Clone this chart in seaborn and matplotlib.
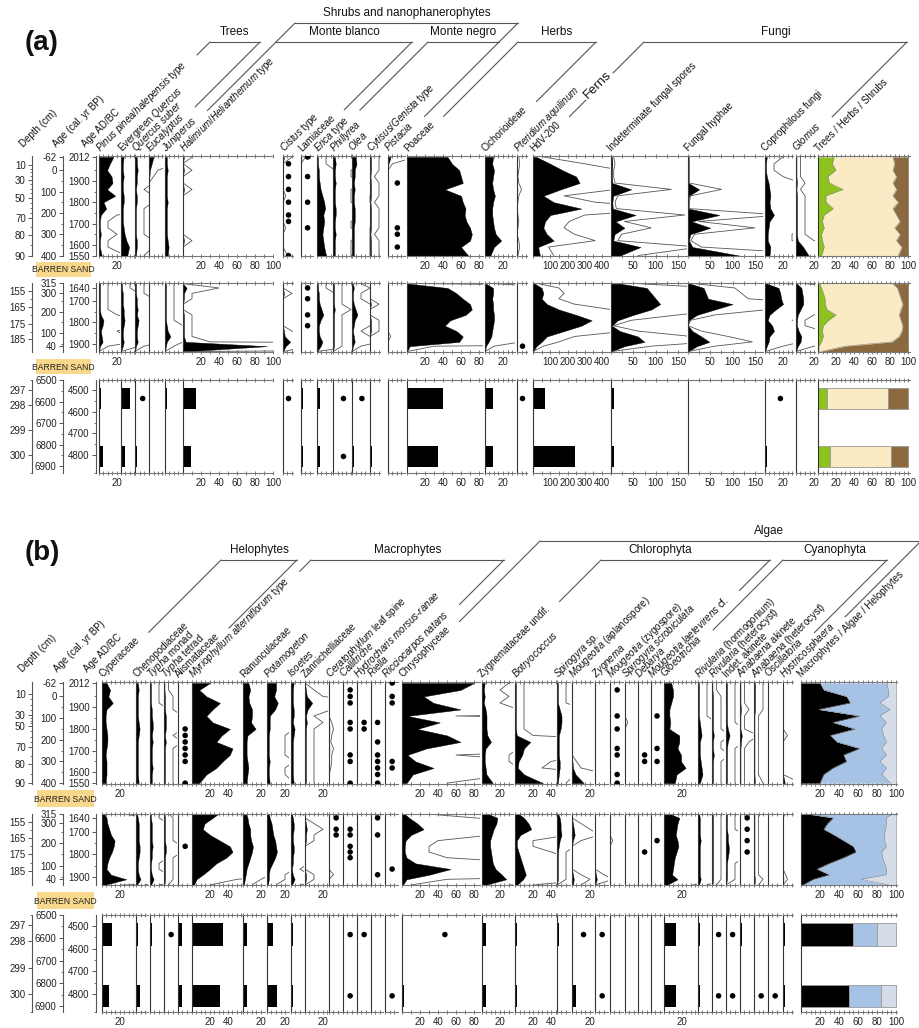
import numpy as np
import matplotlib
matplotlib.use('Agg')
import matplotlib.pyplot as plt
from matplotlib.patches import Rectangle
import seaborn as sns

sns.set_theme(style='white')
plt.rcParams['font.family'] = ['Liberation Sans', 'DejaVu Sans']
plt.rcParams['mathtext.fontset'] = 'custom'
plt.rcParams['mathtext.rm'] = 'Liberation Sans'
plt.rcParams['mathtext.it'] = 'Liberation Sans:italic'
plt.rcParams['mathtext.bf'] = 'Liberation Sans:bold'
plt.rcParams['axes.unicode_minus'] = False

# ---------------- sample ages ----------------
UP_AD = [2012, 1980, 1950, 1920, 1890, 1860, 1830, 1800, 1770, 1740, 1710, 1680, 1650, 1620, 1590, 1550]
MID_AD = [1620, 1640, 1665, 1690, 1715, 1740, 1765, 1790, 1815, 1840, 1865, 1890, 1910, 1935]
LOW_BP = [6586, 6855]

Z16 = [0, 0, 0, 0, 0, 0, 0, 0, 0, 0, 0, 0, 0, 0, 0, 0]
Z14 = [0, 0, 0, 0, 0, 0, 0, 0, 0, 0, 0, 0, 0, 0]
Z2 = [0, 0]

# ---------------- panel (a) data ----------------
pinus_up = [16, 12, 9, 14, 15, 9, 18, 5, 8, 2, 1, 1, 2, 1, 1, 3]
pinus_mid = [1, 1, 1, 1, 1, 1, 2, 5, 4, 2, 3, 4, 1, 0]
pinus_low = [2, 4]
evq_up = [3, 2, 2, 3, 2, 2, 3, 3, 2, 2, 2, 3, 4, 6, 9, 7]
evq_mid = [1, 1, 2, 2, 2, 3, 3, 4, 3, 2, 2, 3, 2, 0]
evq_low = [10, 5]
qsub_up = [2, 2, 3, 2, 2, 1, 2, 2, 1, 1, 1, 1, 1, 2, 2, 1]
qsub_mid = [1, 1, 1, 2, 2, 3, 2, 4, 3, 2, 2, 3, 1, 0]
qsub_low = [0, 2]
qsub_dots_low = [0]
euca_up = [5, 3, 1, 0.5, 0, 0, 0, 0, 0, 0, 0, 0, 0, 0, 0, 0]
euca_mid = Z14
euca_low = Z2
juni_up = [2, 2, 3, 2, 2, 2, 2, 3, 2, 2, 2, 2, 2, 3, 4, 3]
juni_mid = [1, 1, 1, 1, 1, 1, 1, 1, 2, 3, 6, 2, 1, 0]
juni_low = [2, 0]
hali_up = [1, 0, 1, 0, 0, 1, 0, 0, 0, 0, 0, 0, 0, 1, 0, 0]
hali_mid = [0, 4, 1, 1, 0, 0, 1, 1, 1, 1, 1, 3, 93, 0]
hali_low = [14, 9]
cist_up = [1, 0, 0, 0, 0, 0, 0.3, 0, 0, 0, 0, 0.3, 0, 0, 0, 0.5]
cist_dots_up = [1, 3, 5, 7, 9, 10, 15]
cist_mid = [0, 0, 1, 0, 0, 0, 0, 0, 0, 1, 2, 8, 3, 0]
cist_low = Z2
cist_dots_low = [0]
lami_up = [0.5, 0, 0, 0, 0, 0, 0, 0, 0, 0, 0, 0, 0, 0, 0, 0]
lami_dots_up = [0, 3, 7, 11]
lami_mid = Z14
lami_dots_mid = [1, 3, 6, 8]
lami_low = [2, 2]
eric_up = [1, 1, 2, 2, 3, 4, 6, 8, 9, 7, 8, 7, 6, 7, 8, 10]
eric_mid = [1, 1, 2, 2, 3, 5, 7, 4, 2, 2, 3, 6, 4, 0]
eric_low = [3, 3]
phil_up = [2, 3, 2, 2, 3, 2, 2, 2, 3, 3, 2, 2, 3, 2, 2, 2]
phil_mid = [1, 1, 1, 1, 1, 2, 1, 1, 1, 1, 1, 1, 1, 0]
phil_low = Z2
phil_dots_low = [0, 1]
olea_up = [4, 5, 3, 3, 2, 3, 2, 2, 3, 3, 3, 2, 2, 2, 2, 2]
olea_mid = [1, 2, 1, 1, 2, 4, 6, 3, 2, 1, 2, 3, 1, 0]
olea_low = [0, 2]
olea_dots_low = [0]
cyti_up = [1, 1, 1, 0.5, 1, 1, 1, 0.5, 1, 1, 1, 1, 0.5, 1, 1, 1]
cyti_mid = [0, 0, 0, 0, 1, 0, 0, 1, 1, 1, 0, 0, 0, 0]
cyti_low = [0, 2]
pist_up = [3, 0.5, 0, 0, 0, 0, 0, 0, 0, 0, 0, 0, 0, 0, 0, 0]
pist_dots_up = [4, 11, 12, 14]
pist_mid = [0, 0, 0, 0, 0, 0, 0, 0, 0, 0, 0.3, 0, 0, 0]
pist_low = Z2
poac_up = [45, 50, 58, 60, 62, 42, 60, 62, 65, 64, 66, 70, 72, 70, 60, 68]
poac_mid = [2, 45, 55, 62, 70, 72, 65, 48, 42, 55, 62, 58, 3, 0]
poac_low = [40, 34]
cich_up = [9, 8, 10, 9, 8, 9, 11, 9, 8, 8, 9, 10, 12, 18, 10, 6]
cich_mid = [1, 9, 9, 8, 9, 9, 10, 10, 9, 8, 7, 4, 1, 0]
cich_low = [9, 9]
pter_up = [0.2, 0.3, 0.2, 0.1, 0.2, 0.5, 0.2, 0.1, 0, 0.1, 0.2, 0.1, 0, 0.2, 0.3, 0.1]
pter_mid = Z14
pter_dots_mid = [12]
pter_low = Z2
pter_dots_low = [0]
hdv_up = [20, 100, 170, 250, 270, 160, 60, 120, 280, 100, 70, 60, 80, 120, 30, 40]
hdv_mid = [10, 50, 60, 50, 80, 150, 250, 340, 280, 180, 80, 50, 20, 0]
hdv_low = [68, 245]
fsp_up = [2, 3, 2, 2, 3, 45, 5, 3, 4, 55, 10, 30, 8, 5, 66, 20]
fsp_mid = [20, 80, 90, 100, 110, 90, 50, 15, 2, 20, 60, 75, 30, 0]
fsp_low = [7, 7]
fhy_up = [1, 1, 1, 1, 1, 25, 2, 1, 1, 70, 8, 50, 5, 2, 10, 115]
fhy_mid = [5, 35, 40, 45, 100, 60, 20, 2, 0, 10, 30, 48, 20, 0]
fhy_low = Z2
copr_up = [2, 1, 1, 2, 4, 5, 6, 5, 6, 10, 5, 4, 3, 3, 6, 5]
copr_mid = [2, 15, 17, 18, 20, 12, 5, 3, 8, 10, 5, 4, 2, 0]
copr_low = [0, 2]
copr_dots_low = [0]
glom_up = [0.5, 0.5, 0.5, 0.5, 1, 0.5, 1, 1, 1, 1, 1, 1, 1, 2, 8, 14]
glom_mid = [1, 6, 7, 8, 8, 5, 2, 1, 1, 3, 6, 5, 2, 0]
glom_low = Z2
ths_trees_up = [18, 16, 20, 11, 13, 28, 9, 9, 17, 7, 5, 7, 4, 5, 7, 4]
ths_shrubs_up = [17, 15, 17, 13, 17, 13, 17, 11, 17, 13, 9, 15, 9, 13, 7, 11]
ths_trees_mid = [2, 4, 6, 8, 8, 10, 20, 12, 6, 5, 6, 4, 1, 1]
ths_shrubs_mid = [17, 12, 10, 8, 6, 8, 10, 8, 6, 7, 10, 18, 70, 97]
ths_trees_low = [10, 13]
ths_shrubs_low = [22, 19]

# ---------------- panel (b) data ----------------
cype_up = [5, 9, 7, 12, 5, 4, 4, 5, 6, 6, 5, 4, 5, 5, 5, 4]
cype_mid = [2, 5, 6, 8, 10, 14, 13, 11, 8, 6, 5, 10, 27, 2]
cype_low = [11, 8]
chen_up = [2, 3, 2, 2, 2, 2, 3, 4, 3, 2, 2, 2, 2, 2, 2, 3]
chen_mid = [1, 2, 3, 3, 3, 3, 4, 4, 3, 2, 2, 3, 5, 1]
chen_low = [2, 4]
tymo_up = [1, 1, 1, 1, 2, 2, 3, 3, 2, 3, 2, 2, 2, 3, 2, 2]
tymo_mid = [1, 1, 2, 2, 2, 2, 3, 2, 2, 1, 1, 2, 4, 1]
tymo_low = [2, 0]
tyte_up = [0.5, 0.5, 1, 1, 1, 2, 2, 2, 1, 2, 1, 1, 1, 1, 1, 1]
tyte_mid = [0.5, 1, 1, 1, 1, 1, 2, 2, 1, 1, 1, 1, 1, 0.5]
tyte_low = Z2
tyte_dots_low = [0]
alis_up = Z16
alis_dots_up = [7, 8, 9, 10, 11, 12, 15]
alis_mid = Z14
alis_dots_mid = [6]
alis_low = [5, 4]
myri_up = [20, 8, 16, 31, 23, 16, 23, 42, 33, 27, 45, 42, 34, 27, 16, 8]
myri_mid = [30, 23, 14, 12, 20, 31, 42, 45, 38, 27, 20, 12, 5, 2]
myri_low = [35, 31]
ranu_up = [6, 8, 6, 7, 10, 10, 9, 14, 5, 4, 4, 4, 5, 6, 5, 4]
ranu_mid = [3, 5, 6, 8, 8, 9, 11, 10, 8, 6, 4, 3, 2, 1]
ranu_low = [5, 5]
pota_up = [10, 10, 8, 12, 9, 3, 3, 3, 2, 2, 2, 2, 3, 2, 2, 3]
pota_mid = [2, 3, 5, 6, 7, 9, 10, 11, 9, 6, 3, 2, 2, 1]
pota_low = [7, 11]
isoe_up = [3, 2, 2, 2, 3, 3, 2, 4, 3, 2, 2, 2, 2, 2, 2, 3]
isoe_mid = [1, 2, 3, 3, 2, 2, 3, 3, 2, 2, 1, 2, 4, 1]
isoe_low = [2, 2]
zann_up = [0, 1, 2, 8, 3, 1, 2, 1, 1, 1, 1, 1, 1, 1, 1, 1]
zann_mid = [0, 0, 1, 2, 1, 1, 0, 0, 0, 0, 0, 1, 1, 0]
zann_low = Z2
cera_up = [0, 0, 0, 0, 0, 0, 0.3, 0.5, 0.3, 0.2, 0.5, 0.3, 0.3, 0.2, 0, 0]
cera_mid = [0, 0, 0, 0, 0, 0, 0, 0, 0, 0, 0, 0.5, 0, 0]
cera_dots_mid = [1, 3, 4]
cera_low = Z2
call_up = Z16
call_dots_up = [1, 2, 3, 6, 7, 11, 12, 15]
call_mid = Z14
call_dots_mid = [3, 4, 6, 7, 8]
call_low = Z2
call_dots_low = [0, 1]
hydr_up = Z16
hydr_dots_up = [6, 7]
hydr_mid = Z14
hydr_low = Z2
hydr_dots_low = [0]
riel_up = Z16
riel_dots_up = [6, 9, 11, 12, 13, 14, 15]
riel_mid = Z14
riel_dots_mid = [1, 4, 11]
riel_low = Z2
ricc_up = Z16
ricc_dots_up = [0, 2, 3, 12, 13]
ricc_mid = Z14
ricc_dots_mid = [10]
ricc_low = Z2
ricc_dots_low = [1]
chry_up = [80, 65, 24, 35, 65, 6, 42, 17, 50, 65, 27, 6, 15, 35, 12, 5]
chry_mid = [2, 8, 17, 24, 10, 4, 3, 3, 5, 15, 54, 30, 5, 1]
chry_low = [0, 2]
chry_dots_low = [0]
zygu_up = [3, 2, 3, 2, 4, 5, 5, 5, 6, 10, 4, 3, 3, 4, 5, 12]
zygu_mid = [5, 17, 16, 13, 11, 9, 9, 10, 11, 12, 15, 22, 27, 3]
zygu_low = [4, 4]
botr_up = [1, 1, 1, 1, 1, 1, 1, 1, 2, 17, 10, 8, 4, 3, 10, 31]
botr_mid = [3, 10, 15, 18, 6, 2, 2, 4, 6, 8, 10, 12, 9, 2]
botr_low = [2, 2]
spis_up = [1, 1, 1, 1, 3, 5, 5, 4, 2, 2, 2, 2, 3, 3, 2, 1]
spis_mid = [1, 3, 4, 4, 5, 3, 2, 1, 1, 1, 1, 1, 1, 0]
spis_low = [2, 0]
moap_up = [0, 0, 0, 0, 0, 0, 0, 0, 0, 0, 0, 0, 0.5, 1, 4, 13]
moap_mid = [0, 0, 1, 2, 3, 1, 0, 0, 0, 0, 0, 1, 2, 1]
moap_low = [0, 4]
moap_dots_low = [0]
zygn_up = Z16
zygn_mid = [0, 0, 0, 0, 0, 0, 0, 0, 0, 0, 0, 1, 2, 0]
zygn_low = Z2
zygn_dots_low = [0, 1]
mozy_up = Z16
mozy_dots_up = [1, 5, 7, 10, 11, 14, 15]
mozy_mid = [0, 0, 0, 0, 0, 0.3, 0, 0, 0, 0, 0, 0, 0, 0]
mozy_low = Z2
spsc_up = [0, 0, 0, 0, 0, 0, 0.3, 0, 0, 0, 0, 0, 0, 0, 0, 0]
spsc_mid = Z14
spsc_low = Z2
deba_up = Z16
deba_dots_up = [11, 12]
deba_mid = Z14
deba_dots_mid = [7]
deba_low = Z2
mola_up = Z16
mola_dots_up = [5, 10, 12]
mola_mid = Z14
mola_dots_mid = [5]
mola_low = Z2
gloe_up = [8, 10, 10, 8, 6, 6, 7, 6, 17, 17, 15, 19, 19, 24, 14, 12]
gloe_mid = [5, 17, 15, 14, 13, 15, 16, 14, 12, 11, 10, 9, 15, 3]
gloe_low = [13, 13]
rivh_up = [1, 1, 1, 1, 1, 1, 2, 3, 4, 2, 2, 2, 3, 4, 5, 2]
rivh_mid = [1, 2, 2, 2, 2, 3, 2, 2, 2, 2, 2, 2, 3, 1]
rivh_low = [2, 2]
rivt_up = [0.5, 0.5, 1, 1, 1, 1, 1, 1, 2, 1, 1, 2, 1, 1, 1, 1]
rivt_mid = [1, 1, 1, 1, 1, 1, 1, 1, 1, 1, 1, 1, 1, 0.5]
rivt_low = Z2
rivt_dots_low = [0, 1]
inak_up = [1, 1, 1, 1, 1, 1, 1, 2, 4, 2, 1, 1, 1, 1, 1, 1]
inak_mid = [1, 1, 1, 1, 2, 2, 3, 3, 2, 1, 1, 1, 1, 0]
inak_low = Z2
inak_dots_low = [0, 1]
anak_up = [0.5, 0.5, 0.5, 0.5, 1, 0.5, 0.5, 0.5, 2, 1, 0.5, 0.5, 0.5, 0.5, 0.5, 0.5]
anak_mid = Z14
anak_dots_mid = [1, 3, 5, 7]
anak_low = [2, 0]
anah_up = [1, 1, 1, 1, 1, 0.5, 0.5, 0.5, 0.5, 0.5, 0.5, 0.5, 0.5, 0.5, 0.5, 1]
anah_mid = [0.5, 0.5, 0.5, 0.5, 0.5, 0.5, 0.5, 0.5, 0.5, 0.5, 0.5, 0.5, 1, 0.5]
anah_low = Z2
anah_dots_low = [1]
osci_up = Z16
osci_mid = Z14
osci_low = Z2
osci_dots_low = [1]
hyst_up = [0, 0, 0, 0, 0, 0, 0, 0, 0.5, 0, 0, 0, 0, 0, 0, 2]
hyst_mid = [0.3, 0, 0, 0, 0, 0, 0, 0, 0, 0, 0, 0.3, 0.5, 0]
hyst_low = [2, 2]
mah_macro_up = [20, 24, 48, 52, 19, 62, 34, 57, 31, 38, 62, 45, 48, 34, 24, 20]
mah_helo_up = [10, 8, 8, 17, 6, 17, 10, 15, 13, 10, 15, 10, 17, 10, 15, 6]
mah_macro_mid = [3, 34, 28, 24, 35, 45, 55, 58, 45, 30, 17, 30, 13, 2]
mah_helo_mid = [3, 10, 10, 11, 12, 12, 10, 15, 14, 12, 10, 10, 37, 8]
mah_macro_low = [55, 51]
mah_helo_low = [20, 16]

# ---------------- labels ----------------
A_LABELS = [r'$\it{Pinus\ pinea/halepensis}$ type', r'Evergreen $\it{Quercus}$', r'$\it{Quercus\ suber}$',
            r'$\it{Eucalyptus}$', r'$\it{Juniperus}$', r'$\it{Halimium/Helianthemum}$ type',
            r'$\it{Cistus}$ type', 'Lamiaceae', r'$\it{Erica}$ type', r'$\it{Phillyrea}$', r'$\it{Olea}$',
            r'$\it{Cytisus/Genista}$ type', r'$\it{Pistacia}$', 'Poaceae', 'Cichorioideae',
            r'$\it{Pteridium\ aquilinum}$', 'HdV-200', 'Indeterminate fungal spores', 'Fungal hyphae',
            'Coprophilous fungi', r'$\it{Glomus}$', 'Trees / Herbs / Shrubs']
B_LABELS = ['Cyperaceae', 'Chenopodiaceae', r'$\it{Typha}$ monad', r'$\it{Typha}$ tetrad', 'Alismataceae',
            r'$\it{Myriophyllum\ alterniflorum}$ type', 'Ranunculaceae', r'$\it{Potamogeton}$',
            r'$\it{Isoetes}$', 'Zannichelliaceae', r'$\it{Ceratophyllum}$ leaf spine', r'$\it{Callitriche}$',
            r'$\it{Hydrocharis\ morsus}$-$\it{ranae}$', r'$\it{Riella}$', r'$\it{Ricciocarpos\ natans}$',
            'Chrysophyceae', 'Zygnemataceae undif.', r'$\it{Botryococcus}$', r'$\it{Spirogyra}$ sp.',
            r'$\it{Mougeotia}$ (aplanospore)', r'$\it{Zygnema}$', r'$\it{Mougeotia}$ (zygospore)',
            r'$\it{Spirogyra\ scrobiculata}$', r'$\it{Debarya}$', r'$\it{Mougeotia\ laetevirens}$ cf.',
            r'$\it{Gloeotrichia}$', r'$\it{Rivularia}$ (hormogonium)', r'$\it{Rivularia}$ (heterocyst)',
            'Indet. akinete', r'$\it{Anabaena}$ akinete', r'$\it{Anabaena}$ (heterocyst)',
            r'$\it{Oscillatoria}$', r'$\it{Hystricosphaera}$', 'Macrophytes / Algae / Helophytes']

# ---------------- layout (pixels) ----------------
W, H = 920, 1028
PX = 0.9  # px per percent
A_COLS = [('pinus', 99, 21, None, 5, [20]), ('evq', 121, 14, None, 5, []), ('qsub', 135, 14, None, 5, []),
          ('euca', 149, 14, None, 5, []), ('juni', 165, 17, None, 5, []), ('hali', 183, 90, None, 10, [20, 40, 60, 80, 100]),
          ('cist', 283, 10, None, 5, []), ('lami', 301, 12, None, 5, []), ('eric', 317, 16, None, 5, []),
          ('phil', 333, 19, None, 5, []), ('olea', 352, 18, None, 5, []), ('cyti', 370, 10, None, 5, []),
          ('pist', 388, 17, None, 5, []), ('poac', 407, 76, None, 10, [20, 40, 60, 80]),
          ('cich', 485, 30, None, 5, [20]), ('pter', 517, 10, None, 5, []),
          ('hdv', 533, 77, 446, 50, [100, 200, 300, 400]), ('fsp', 611, 76, 170, 25, [50, 100, 150]),
          ('fhy', 688, 75, 168, 25, [50, 100, 150]), ('copr', 765, 28, None, 5, [20]),
          ('glom', 796, 19, None, 5, [20]), ('ths', 818, 92, 102, 5, [20, 40, 60, 80, 100])]
B_COLS = [('cype', 102, 33, None, 5, [20]), ('chen', 136, 12, None, 5, []), ('tymo', 150, 13, None, 5, []),
          ('tyte', 164, 13, None, 5, []), ('alis', 178, 13, None, 5, []), ('myri', 192, 50, None, 5, [20, 40]),
          ('ranu', 243, 22, None, 5, [20]), ('pota', 267, 22, None, 5, [20]), ('isoe', 291, 13, None, 5, []),
          ('zann', 305, 23, None, 5, [20]), ('cera', 329, 13, None, 5, []), ('call', 343, 13, None, 5, []),
          ('hydr', 357, 13, None, 5, []), ('riel', 371, 12, None, 5, []), ('ricc', 385, 13, None, 5, []),
          ('chry', 402, 78, None, 10, [20, 40, 60, 80]), ('zygu', 482, 31, None, 5, [20]),
          ('botr', 515, 41, None, 5, [20, 40]), ('spis', 557, 13, None, 5, []), ('moap', 572, 21, None, 5, [20]),
          ('zygn', 595, 13, None, 5, []), ('mozy', 610, 13, None, 5, []), ('spsc', 625, 12, None, 5, []),
          ('deba', 638, 12, None, 5, []), ('mola', 651, 11, None, 5, []), ('gloe', 664, 33, None, 5, [20]),
          ('rivh', 698, 13, None, 5, []), ('rivt', 712, 12, None, 5, []), ('inak', 726, 12, None, 5, []),
          ('anak', 740, 13, None, 5, []), ('anah', 754, 13, None, 5, []), ('osci', 768, 13, None, 5, []),
          ('hyst', 783, 10, None, 5, []), ('mah', 801, 96, 101, 5, [20, 40, 60, 80, 100])]
EXAG = {'hdv': 3, 'fsp': 3, 'fhy': 3}

A_BLOCKS = [('up', 156, 256, (1548, 2016.5)), ('mid', 283, 352, (1937, 1617)), ('low', 380, 473, (6932, 6500))]
B_BLOCKS = [('up', 682, 784, (1546, 2016.6)), ('mid', 814, 885, (1935, 1623)), ('low', 915, 1012, (6926, 6500))]
AGES = {'up': UP_AD, 'mid': MID_AD, 'low': LOW_BP}

fig = plt.figure(figsize=(W / 100, H / 100), dpi=100)
fig.patch.set_facecolor('white')
ov = fig.add_axes([0, 0, 1, 1])
ov.set_xlim(0, W)
ov.set_ylim(H, 0)
ov.axis('off')

LINE = '#555555'


def px_axes(x0, top, w, h):
    return fig.add_axes([x0 / W, 1 - (top + h) / H, w / W, h / H])


def style_col(ax, xmax, step, ticklabels):
    ticks = np.arange(0, xmax + 1e-6, step)
    ax.set_xticks(ticks)
    ax.set_xticklabels([str(int(t)) if (abs(t - round(t)) < 1e-6 and int(round(t)) in ticklabels) else ''
                        for t in ticks])
    ax.xaxis.set_ticks_position('both')
    ax.tick_params(axis='x', which='both', direction='inout', length=2.6, width=0.6, color='#666666',
                   labelsize=7, pad=2, labelcolor='#222222', top=True, bottom=True, labeltop=False)
    ax.set_yticks([])
    ax.spines['right'].set_visible(False)
    for s in ('top', 'bottom'):
        ax.spines[s].set_color('#777777')
        ax.spines[s].set_linewidth(0.8)
    ax.spines['left'].set_color('#333333')
    ax.spines['left'].set_linewidth(0.8)
    ax.patch.set_alpha(0)


def draw_column(blocks, key, x0, w, xmax, step, ticklabels):
    if xmax is None:
        xmax = w / PX
    for name, top, bot, ylim in blocks:
        ax = px_axes(x0, top, w, bot - top)
        ages = np.array(AGES[name], float)
        if key in ('ths', 'mah'):
            if key == 'ths':
                a = np.array(globals()['ths_trees_' + name], float)
                c = np.array(globals()['ths_shrubs_' + name], float)
                parts = [a, 100 - a - c, c]
                cols = ['#8DC21F', '#FAEBC5', '#8C6A3F']
            else:
                a = np.array(globals()['mah_macro_' + name], float)
                c = np.array(globals()['mah_helo_' + name], float)
                parts = [a, 100 - a - c, c]
                cols = ['#000000', '#A6C3E6', '#D6DDE8']
            left = np.zeros(len(ages))
            for arr, col in zip(parts, cols):
                if name == 'low':
                    ax.barh(ages, arr, left=left, height=99, color=col, edgecolor='#999999', lw=0.6)
                else:
                    ax.fill_betweenx(ages, left, left + arr, color=col, lw=0)
                    ax.plot(left + arr, ages, color='#888888', lw=0.4)
                left = left + arr
        else:
            v = np.array(globals()[key + '_' + name], float)
            if name == 'low':
                ax.barh(ages, v, height=99, color='black', lw=0)
            else:
                ax.fill_betweenx(ages, 0, v, color='black', lw=0.3, edgecolor='black')
                ax.plot(v * EXAG.get(key, 10), ages, color=LINE, lw=0.6)
            d = globals().get(key + '_dots_' + name, [])
            if len(d):
                sns.scatterplot(x=[xmax * 0.55] * len(d), y=[ages[i] for i in d], ax=ax, color='black',
                                s=16, edgecolor='none', legend=False, zorder=4)
        ax.set_xlim(0, xmax)
        ax.set_ylim(*ylim)
        ax.set_xlabel('')
        ax.set_ylabel('')
        style_col(ax, xmax, step, ticklabels)


def side_axis(x, top, bot, ylim, majors, labels, minors):
    ax = fig.add_axes([x / W, 1 - bot / H, 0.6 / W, (bot - top) / H])
    ax.set_ylim(*ylim)
    ax.set_xticks([])
    for s in ('top', 'right', 'bottom'):
        ax.spines[s].set_visible(False)
    ax.spines['left'].set_color('#555555')
    ax.spines['left'].set_linewidth(0.8)
    ax.set_yticks(majors)
    ax.set_yticklabels(labels)
    ax.set_yticks(minors, minor=True)
    ax.tick_params(axis='y', which='major', length=3, width=0.7, pad=1.5, labelsize=7,
                   color='#555555', labelcolor='#222222', left=True)
    ax.tick_params(axis='y', which='minor', length=1.8, width=0.6, color='#555555', left=True)
    ax.patch.set_alpha(0)


def side_axes(blocks, depth_up, depth_mid):
    (_, t0, b0, yl0), (_, t1, b1, yl1), (_, t2, b2, yl2) = blocks
    dU = [10, 30, 50, 70, 80, 90]
    side_axis(32, t0, b0, yl0, depth_up, [str(v) for v in dU],
              list(np.interp([15, 20, 25, 35, 40, 45, 55, 60, 65, 75, 85], dU, depth_up)))
    side_axis(63, t0, b0, yl0, [2012, 1950, 1850, 1750, 1650, 1550], ['-62', '0', '100', '200', '300', '400'],
              [1900, 1800, 1700, 1600])
    side_axis(96, t0, b0, yl0, [2012, 1900, 1800, 1700, 1600, 1550],
              ['2012', '1900', '1800', '1700', '1600', '1550'], [1950, 1850, 1750, 1650])
    dM = [155, 165, 175, 185]
    side_axis(32, t1, b1, yl1, depth_mid, [str(v) for v in dM],
              list(np.interp([160, 170, 180], dM, depth_mid)))
    top_mid = yl1[1]
    side_axis(63, t1, b1, yl1, [top_mid + 1, 1662, 1750, 1850, 1910], ['315', '300', '200', '100', '40'],
              [1700, 1800, 1900])
    side_axis(96, t1, b1, yl1, [1640, 1700, 1800, 1900], ['1640', '1700', '1800', '1900'], [1750, 1850])
    side_axis(32, t2, b2, yl2, [6546, 6616, 6733, 6849], ['297', '298', '299', '300'], [6500, yl2[0]])
    side_axis(63, t2, b2, yl2, [6500, 6600, 6700, 6800, 6900], ['6500', '6600', '6700', '6800', '6900'],
              [6550, 6650, 6750, 6850])
    side_axis(96, t2, b2, yl2, [6548, 6648, 6748, 6848], ['4500', '4600', '4700', '4800'],
              [6598, 6698, 6798, yl2[0]])


def col_labels(cols, labels, top):
    info = []
    for (key, x0, *_), lab in zip(cols, labels):
        ax0, ay0 = x0 + 1, top - 4
        t = ov.text(ax0, ay0, lab, rotation=45, rotation_mode='anchor', ha='left', va='baseline',
                    fontsize=7, color='#111111')
        info.append((ax0, ay0, t))
    return info


def groups(info, defs):
    r = fig.canvas.get_renderer()
    for i1, i2, yb, title, stop1, stop2, tx in defs:
        ax1, ay1, t1 = info[i1]
        ax2, ay2, t2 = info[i2]
        xl = ax1 + (ay1 - yb)
        xr = ax2 + (ay2 - yb)
        ov.plot([xl, xr], [yb, yb], color=LINE, lw=0.8)
        for (axx, ayy, t), stop in (((ax1, ay1, t1), stop1), ((ax2, ay2, t2), stop2)):
            if stop is None:
                bb = t.get_window_extent(r)
                ys = H - bb.y1 - 3
            else:
                ys = stop
            if ys > yb:
                ov.plot([axx + (ayy - ys), axx + (ayy - yb)], [ys, yb], color=LINE, lw=0.8)
        ov.text(tx if tx else (xl + xr) / 2, yb - 4, title, ha='center', va='bottom', fontsize=8.5,
                color='#111111')


# ---------------- draw panel (a) ----------------
for key, x0, w, xmax, step, tl in A_COLS:
    draw_column(A_BLOCKS, key, x0, w, xmax, step, tl)
side_axes(A_BLOCKS, [1975, 1905, 1822, 1724, 1645, 1550], [1652, 1728, 1807, 1877])
infoA = col_labels(A_COLS, A_LABELS, 156)
groups(infoA, [(0, 3, 42, 'Trees', None, None, None),
               (4, 12, 23, 'Shrubs and nanophanerophytes', 42, 42, None),
               (4, 7, 42, 'Monte blanco', None, None, None),
               (8, 12, 42, 'Monte negro', None, None, None),
               (13, 14, 42, 'Herbs', None, None, None),
               (16, 20, 42, 'Fungi', None, None, None)])
ov.text(588, 99, 'Ferns', rotation=45, rotation_mode='anchor', ha='left', va='baseline', fontsize=9.5,
        color='#111111', bbox=dict(facecolor='white', edgecolor='none', pad=1.2), zorder=5)

# ---------------- draw panel (b) ----------------
for key, x0, w, xmax, step, tl in B_COLS:
    draw_column(B_BLOCKS, key, x0, w, xmax, step, tl)
side_axes(B_BLOCKS, [1961, 1864, 1813, 1716, 1638, 1550], [1657, 1727, 1800, 1874])
infoB = col_labels(B_COLS, B_LABELS, 682)
groups(infoB, [(0, 4, 560, 'Helophytes', None, None, None),
               (5, 14, 560, 'Macrophytes', None, None, None),
               (15, 32, 541, 'Algae', None, None, 769),
               (16, 24, 560, 'Chlorophyta', None, None, 660),
               (25, 31, 560, 'Cyanophyta', None, None, None)])

# ---------------- axis titles, panel letters, barren sand ----------------
for (x, y), s in zip([(24, 148), (57, 148), (86, 148)], ['Depth (cm)', 'Age (cal. yr BP)', 'Age AD/BC']):
    ov.text(x, y, s, rotation=45, rotation_mode='anchor', ha='left', va='baseline', fontsize=7, color='#111111')
for (x, y), s in zip([(23, 673), (58, 673), (88, 673)], ['Depth (cm)', 'Age (cal. yr BP)', 'Age AD/BC']):
    ov.text(x, y, s, rotation=45, rotation_mode='anchor', ha='left', va='baseline', fontsize=7, color='#111111')
ov.text(25, 43, '(a)', fontsize=20, fontweight='bold', ha='left', va='center', color='#111111')
ov.text(25, 553, '(b)', fontsize=20, fontweight='bold', ha='left', va='center', color='#111111')
for x, y, w, h in [(36, 262, 55, 15), (36, 359, 55, 15), (37, 790, 57, 17), (37, 892, 57, 17)]:
    ov.add_patch(Rectangle((x, y), w, h, facecolor='#F8D88C', edgecolor='none'))
    ov.text(x + w / 2, y + h / 2 + 0.5, 'BARREN SAND', ha='center', va='center', fontsize=6.2, color='#222222')

fig.savefig('out.png', dpi=100, facecolor='white')
